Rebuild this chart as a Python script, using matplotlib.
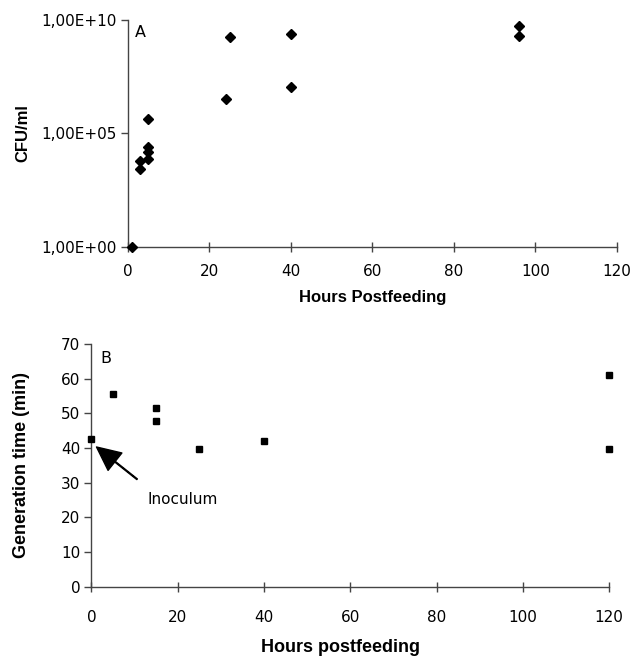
import numpy as np
import matplotlib.pyplot as plt
from matplotlib.ticker import NullLocator

# panel A: viable counts (CFU/ml) vs hours postfeeding
hours_a = [1, 3, 3, 5, 5, 5, 5, 24, 25, 40, 40, 96, 96]
log_cfu = [0, 3.42, 3.80, 5.64, 4.39, 4.20, 3.89, 6.53, 9.24, 9.38, 7.03, 9.74, 9.30]
cfu = [10 ** v for v in log_cfu]
ytick_vals_a = [1, 1e5, 1e10]
ytick_labels_a = ["1,00E+00", "1,00E+05", "1,00E+10"]

# panel B: generation time vs hours postfeeding
hours_b = [0, 5, 15, 15, 25, 40, 120, 120]
gen_time = [42.5, 55.7, 51.4, 47.7, 39.7, 42.1, 61.2, 39.7]

xticks = [0, 20, 40, 60, 80, 100, 120]
tick_font = "DejaVu Sans"
label_font = "Liberation Sans"
spine_col = "#444444"

fig = plt.figure(figsize=(6.32, 6.6), dpi=100)

def style_axes(ax, xpad):
    for s in ["top", "right"]:
        ax.spines[s].set_visible(False)
    for s in ["left", "bottom"]:
        ax.spines[s].set_color(spine_col)
        ax.spines[s].set_linewidth(1.0)
    ax.tick_params(axis="x", direction="inout", length=7, width=1, color=spine_col,
                   labelsize=11, pad=xpad)
    ax.tick_params(axis="y", direction="out", length=5, width=1, color=spine_col,
                   labelsize=11, pad=3)
    for lab in ax.get_xticklabels() + ax.get_yticklabels():
        lab.set_family(tick_font)

# ---- A ----
axa = fig.add_axes([0.2025, 0.6258, 0.7735, 0.3439])
axa.plot(hours_a, cfu, linestyle="none", marker="D", markersize=5.6,
         color="black", clip_on=False, zorder=3)
axa.set_yscale("log")
axa.set_ylim(1, 1e10)
axa.set_xlim(0, 120)
axa.set_yticks(ytick_vals_a)
axa.set_yticklabels(ytick_labels_a)
axa.yaxis.set_minor_locator(NullLocator())
axa.set_xticks(xticks)
style_axes(axa, 9)
axa.set_xlabel("Hours Postfeeding", family=label_font, fontweight="bold",
               fontsize=12, labelpad=8)
axa.set_ylabel("CFU/ml", family=label_font, fontweight="bold", fontsize=12,
               labelpad=8)
axa.text(0.014, 0.943, "A", transform=axa.transAxes, fontsize=11.5,
         family=tick_font, va="center", ha="left")

# ---- B ----
axb = fig.add_axes([0.1445, 0.111, 0.8195, 0.3678])
axb.plot(hours_b, gen_time, linestyle="none", marker="s", markersize=4.5,
         color="black", clip_on=False, zorder=3)
axb.set_xlim(0, 120)
axb.set_ylim(0, 70)
axb.set_xticks(xticks)
axb.set_yticks(np.arange(0, 71, 10))
style_axes(axb, 13)
axb.set_xlabel("Hours postfeeding", family=label_font, fontweight="bold",
               fontsize=13)
axb.xaxis.set_label_coords(0.482, -0.215)
axb.set_ylabel("Generation time (min)", family=label_font, fontweight="bold",
               fontsize=13, labelpad=22)
axb.text(0.017, 0.942, "B", transform=axb.transAxes, fontsize=11.5,
         family=tick_font, va="center", ha="left")
axb.annotate("", xy=(1.2, 40.3), xytext=(10.6, 31),
             arrowprops=dict(facecolor="black", edgecolor="black", width=0.6,
                             headwidth=16, headlength=17, shrink=0))
axb.text(13.1, 25.3, "Inoculum", fontsize=11, family=tick_font,
         va="center", ha="left")

fig.savefig("out.png", dpi=100)
